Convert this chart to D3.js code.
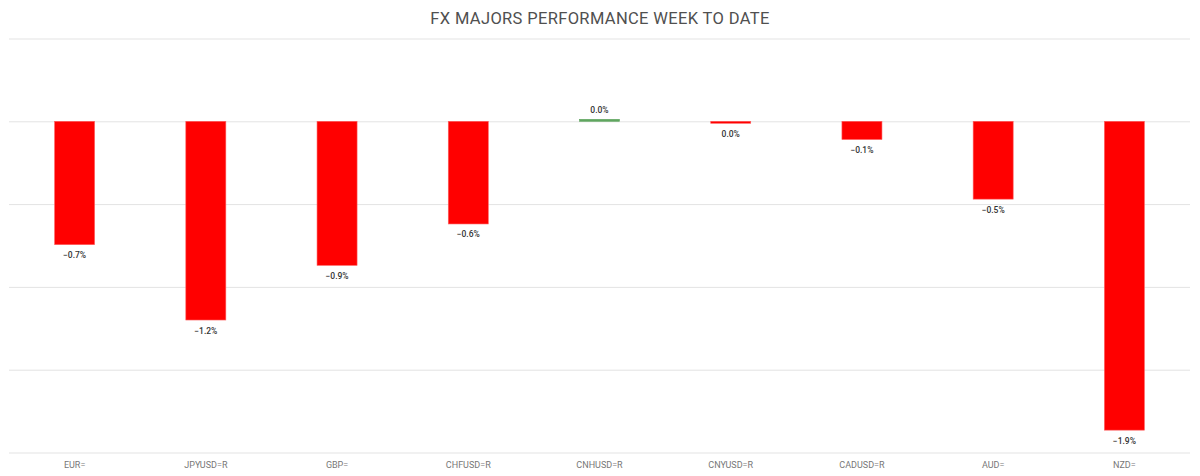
<!DOCTYPE html>
<html><head><meta charset="utf-8">
<script src="https://cdn.jsdelivr.net/npm/d3@7"></script>
<style>body{margin:0;background:#fff;}svg{display:block;}</style>
</head><body>
<script>
const categories = ["EUR=","JPYUSD=R","GBP=","CHFUSD=R","CNHUSD=R","CNYUSD=R","CADUSD=R","AUD=","NZD="];
const values = [-0.745,-1.2,-0.87,-0.62,0.012,-0.012,-0.11,-0.47,-1.865];
const gridTicks = [0.5,0,-0.5,-1,-1.5,-2];
const title = "FX MAJORS PERFORMANCE WEEK TO DATE";

const W=1200,H=476;
const svg=d3.select("body").append("svg").attr("width",W).attr("height",H);
const mLeft=9,mRight=1190,mTop=38,mBottom=452;
const x=d3.scaleBand().domain(categories).range([mLeft,mRight]).paddingInner(0.695).paddingOuter(0.3475);
const y=d3.scaleLinear().domain([0.5,-2]).range([mTop,mBottom]);

svg.append("text").attr("x",600).attr("y",24).attr("text-anchor","middle")
 .attr("font-family","Roboto, sans-serif").attr("font-size",16.5).attr("letter-spacing",0.35)
 .attr("fill","#505050").text(title);

const yAxis=d3.axisLeft(y).tickValues(gridTicks).tickSize(-(mRight-mLeft)).tickFormat("");
const g=svg.append("g").attr("transform",`translate(${mLeft},0.5)`).call(yAxis);
g.select(".domain").remove();
g.selectAll(".tick line").attr("stroke","#e3e3e3").attr("stroke-width",1);

svg.selectAll("rect.bar").data(values).enter().append("rect")
 .attr("x",(d,i)=>x(categories[i])).attr("width",x.bandwidth())
 .attr("y",d=>y(Math.max(0,d))+0.5).attr("height",d=>Math.max(1.5,Math.abs(y(d)-y(0))))
 .attr("fill",d=>d>=0?"#5fa55f":"#ff0000")
 .attr("stroke",d=>d>=0?"#5fa55f":"#ff6060").attr("stroke-width",0.6);

svg.selectAll("text.val").data(values).enter().append("text")
 .attr("x",(d,i)=>x(categories[i])+x.bandwidth()/2)
 .attr("y",d=>d>=0?y(d)-5.5:y(d)+14)
 .attr("text-anchor","middle").attr("font-family","Roboto, sans-serif").attr("font-size",8.5)
 .attr("font-weight",500).attr("fill","#333")
 .text(d=>d3.format(".1f")(Math.abs(d)<0.05?0:d)+"%");

const xAxis=d3.axisBottom(x).tickSize(0).tickPadding(0);
const xg=svg.append("g").attr("transform",`translate(0,${mBottom+16})`).call(xAxis);
xg.select(".domain").remove();
xg.selectAll("text").attr("font-family","Roboto, sans-serif").attr("font-size",9).attr("fill","#777").attr("dy","0");
</script>
</body></html>
